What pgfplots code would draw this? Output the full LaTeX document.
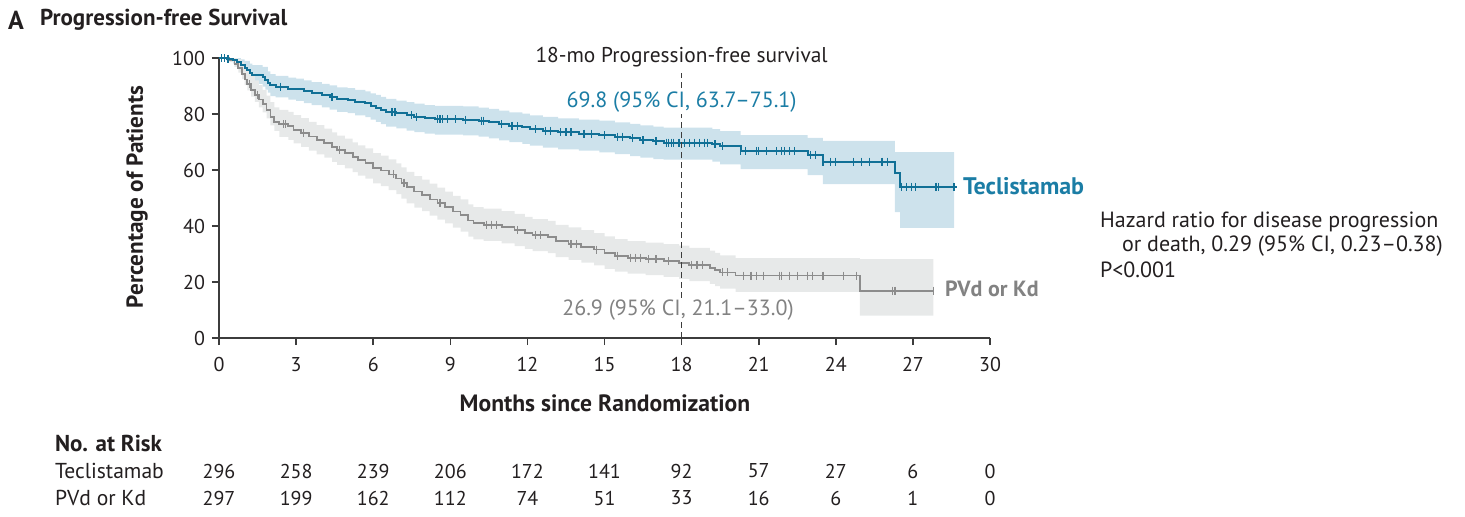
\documentclass[border=0pt]{standalone}
\usepackage{pgfplots}
\pgfplotsset{compat=1.18}
\usepgfplotslibrary{fillbetween}
\usepackage{fontspec}
\setmainfont{PT Sans}

\definecolor{tecline}{RGB}{17,112,150}
\definecolor{tectext}{RGB}{27,125,165}
\definecolor{tecband}{RGB}{205,226,236}
\definecolor{ctlline}{RGB}{140,140,140}
\definecolor{ctltext}{RGB}{130,130,130}
\definecolor{ctlband}{RGB}{231,233,233}
\definecolor{axisgray}{RGB}{60,60,60}
\definecolor{txt}{RGB}{35,31,32}

\begin{document}
\begin{tikzpicture}
\begin{axis}[
  at={(0pt,0pt)}, anchor=south west,
  scale only axis, width=385.5pt, height=140pt,
  xmin=0, xmax=30, ymin=0, ymax=100,
  axis x line*=bottom, axis y line*=left,
  axis line style={-, axisgray, line width=0.8pt},
  xtick={0,3,...,30}, ytick={0,20,...,100},
  tick align=outside, major tick length=3.5pt,
  tick style={axisgray, line width=0.8pt},
  ticklabel style={font=\fontsize{10}{12}\selectfont, text=txt},
  xticklabel style={yshift=-2.5pt},
  /pgf/number format/assume math mode=true,
  clip=false,
]
% 95% confidence bands (step functions)
\addplot[name path=tu, draw=none, const plot] coordinates {
 (0,100)(0.55,100)(0.85,99.5)(1.0,99)(1.2,98)(1.3,97.5)(1.7,96.8)(1.9,95.2)(2.0,94.2)(2.2,93.6)
 (2.7,93)(3.0,92.6)(3.3,92)(3.6,91.4)(4.0,90.8)(4.3,90.2)(4.6,89.5)(5.0,89.2)(5.3,88.6)(5.7,88.1)
 (5.9,87.4)(6.1,86.8)(6.3,86.1)(6.5,85.4)(6.9,84.8)(7.3,84.2)(7.6,83.7)(8.0,83.2)(8.4,82.9)
 (9.5,82.7)(10.1,82.3)(10.5,81.8)(10.9,81.2)(11.3,80.6)(11.8,80.1)(12.1,79.5)(12.6,79)(13.2,78.4)
 (14.0,78)(14.8,77.6)(15.4,77)(16.0,76.5)(16.4,75.9)(16.9,75.5)(17.3,75.1)(19.2,74.6)(19.5,73.9)
 (20.3,72.5)(22.9,71.5)(23.5,70.4)(26.3,66.4)(28.6,66.4)};
\addplot[name path=tl, draw=none, const plot] coordinates {
 (0,100)(0.3,99)(0.55,98)(0.7,96.8)(0.85,95.5)(1.0,94)(1.1,92.8)(1.2,91.6)(1.3,90.8)(1.7,89.8)
 (1.8,88.7)(1.9,87.6)(2.0,86.4)(2.2,85.9)(2.7,85.1)(3.0,84.7)(3.3,83.9)(3.6,83.2)(4.0,82.4)
 (4.3,81.6)(4.6,80.8)(5.0,80.3)(5.3,79.5)(5.7,78.9)(5.9,78)(6.1,77.2)(6.3,76.4)(6.5,75.5)
 (6.9,74.9)(7.3,74.1)(7.6,73.5)(8.0,73)(8.4,72.6)(9.5,72.4)(10.1,71.9)(10.5,71.3)(10.9,70.6)
 (11.3,70)(11.8,69.3)(12.1,68.7)(12.6,68)(13.2,67.4)(14.0,66.9)(14.8,66.3)(15.4,65.7)(16.0,65)
 (16.4,64.4)(16.9,63.9)(17.3,63.7)(19.2,63)(19.5,62)(20.3,60.3)(22.9,58.2)(23.5,55)(26.3,45)
 (26.5,39.3)(28.6,39.3)};
\addplot[tecband, draw=none] fill between[of=tu and tl];

\addplot[name path=cu, draw=none, const plot] coordinates {
 (0,100)(0.6,100)(0.75,99.5)(0.9,98.5)(1.0,97)(1.1,95.5)(1.25,93.6)(1.4,92)(1.55,90.3)(1.7,88.6)
 (1.85,86.6)(2.0,84.2)(2.15,82.4)(2.35,81.5)(2.7,80.8)(2.9,79.6)(3.2,78.5)(3.5,77.2)(3.8,76)
 (4.1,74.8)(4.4,73.4)(4.6,72.3)(4.9,71.2)(5.2,69.9)(5.4,68.8)(5.7,67.7)(6.0,66)(6.3,65.1)
 (6.6,63.8)(6.9,62.4)(7.1,60.9)(7.3,59.3)(7.6,57.8)(7.9,56.6)(8.2,55.1)(8.5,53.7)(8.8,52.3)
 (9.1,50.8)(9.4,49.5)(9.7,47.7)(9.9,46.7)(10.3,46.2)(11.0,45.3)(11.5,44.3)(11.9,43.3)(12.2,42.5)
 (12.8,41.8)(13.1,40.4)(13.6,39.5)(14.1,38.5)(14.6,37.5)(15.0,36.3)(15.4,35.3)(15.9,34.6)
 (16.6,34.1)(17.3,33.5)(17.9,33.0)(18.3,32.2)(19.1,31.2)(19.3,30.4)(19.5,29.5)(20.1,28.5)
 (24.94,28.2)(27.8,28.2)};
\addplot[name path=cl, draw=none, const plot] coordinates {
 (0,100)(0.4,98.5)(0.6,96.8)(0.75,94.8)(0.9,92.5)(1.0,90.3)(1.1,88.4)(1.25,86.2)(1.4,84.3)
 (1.55,82.4)(1.7,80.6)(1.85,78.4)(2.0,75.9)(2.15,74)(2.35,71.8)(2.7,70.8)(2.9,69.5)(3.2,68.3)
 (3.5,66.9)(3.8,65.6)(4.1,64.4)(4.4,62.9)(4.6,61.8)(4.9,60.6)(5.2,59.2)(5.4,58)(5.7,56.9)
 (6.0,55.2)(6.3,54.2)(6.6,52.8)(6.9,51.4)(7.1,49.8)(7.3,48.1)(7.6,46.6)(7.9,45.3)(8.2,43.7)
 (8.5,42.3)(8.8,40.9)(9.1,39.4)(9.4,38)(9.7,36.2)(9.9,35.2)(10.3,34.7)(11.0,33.8)(11.5,32.8)
 (11.9,31.8)(12.2,31)(12.8,30.3)(13.1,28.9)(13.6,27.9)(14.1,26.9)(14.6,25.9)(15.0,24.7)
 (15.4,23.7)(15.9,23)(16.6,22.5)(17.3,21.8)(17.9,21.1)(18.3,20.3)(19.1,19.3)(19.3,18.5)
 (19.5,17.6)(20.1,16.5)(24.94,8.0)(27.8,8.0)};
\addplot[ctlband, draw=none] fill between[of=cu and cl];

% PVd or Kd
\addplot[ctlline, line width=0.9pt, const plot] coordinates {
 (0,100)(0.4,99.3)(0.6,98)(0.75,96.3)(0.9,94.3)(1.0,92.3)(1.1,90.6)(1.25,88.6)(1.4,86.9)
 (1.55,85.2)(1.7,83.5)(1.85,81.4)(2.0,79.0)(2.15,77.2)(2.35,76.3)(2.7,75.6)(2.9,74.4)
 (3.2,73.3)(3.5,72.0)(3.8,70.8)(4.1,69.6)(4.4,68.2)(4.6,67.1)(4.9,66.0)(5.2,64.6)(5.4,63.5)
 (5.7,62.4)(6.0,60.7)(6.3,59.8)(6.6,58.4)(6.9,57.0)(7.1,55.5)(7.3,53.8)(7.6,52.3)(7.9,51.1)
 (8.2,49.5)(8.5,48.1)(8.8,46.7)(9.1,45.2)(9.4,43.8)(9.7,42.0)(9.9,41.0)(10.3,40.5)(11.0,39.6)
 (11.5,38.6)(11.9,37.5)(12.2,36.7)(12.8,36.0)(13.1,34.6)(13.6,33.6)(14.1,32.6)(14.6,31.6)
 (15.0,30.4)(15.4,29.4)(15.9,28.7)(16.6,28.2)(17.3,27.5)(17.9,26.9)(18.3,26.1)(19.1,25.1)
 (19.3,24.3)(19.5,23.4)(20.1,22.3)(24.94,16.9)(27.8,16.9)};
\addplot[ctlline, only marks, mark=|, mark size=2pt, mark options={line width=0.6pt}] coordinates {
 (1.2,90.6)(1.5,86.9)(2.5,76.3)(2.6,76.3)(3.3,73.3)(4.7,67.1)(6.8,58.4)(7.2,55.5)(8.6,48.1)
 (10.4,40.5)(10.6,40.5)(10.8,40.5)(11.6,38.6)(12.3,36.7)(12.5,36.7)(13.7,33.6)(13.9,33.6)
 (14.7,31.6)(15.5,29.4)(16.0,28.7)(16.2,28.7)(16.4,28.7)(16.7,28.2)(17.0,28.2)(17.5,27.5)
 (18.4,26.1)(18.6,26.1)(18.8,26.1)(19.6,23.4)(19.8,23.4)(20.4,22.3)(20.7,22.3)(20.9,22.3)
 (21.2,22.3)(21.8,22.3)(21.9,22.3)(22.2,22.3)(22.5,22.3)(22.9,22.3)(23.1,22.3)(23.5,22.3)
 (24.3,22.3)(24.8,22.3)(26.2,16.9)(26.3,16.9)(27.8,16.9)};

% Teclistamab
\addplot[tecline, line width=1pt, const plot] coordinates {
 (0,100)(0.3,99.7)(0.55,99.3)(0.7,98.6)(0.85,97.6)(1.0,96.6)(1.1,95.6)(1.2,94.6)(1.3,94.0)
 (1.7,93.2)(1.8,92.2)(1.9,91.2)(2.0,90.2)(2.2,89.8)(2.7,89.1)(3.0,88.8)(3.3,88.1)(3.6,87.5)
 (4.0,86.8)(4.3,86.1)(4.6,85.4)(5.0,85.0)(5.3,84.3)(5.7,83.8)(5.9,83.0)(6.1,82.3)(6.3,81.6)
 (6.5,80.8)(6.9,80.2)(7.3,79.5)(7.6,79.0)(8.0,78.5)(8.4,78.2)(9.5,78.0)(10.1,77.6)(10.5,77.0)
 (10.9,76.4)(11.3,75.8)(11.8,75.2)(12.1,74.6)(12.6,74.0)(13.2,73.4)(14.0,73.0)(14.8,72.5)
 (15.4,71.9)(16.0,71.3)(16.4,70.7)(16.9,70.2)(17.3,69.8)(19.2,69.2)(19.5,68.4)(20.3,66.8)
 (22.9,65.4)(23.5,63.0)(26.3,58.8)(26.5,54.0)(28.7,54.0)};
\addplot[tecline, only marks, mark=|, mark size=2pt, mark options={line width=0.6pt}] coordinates {
 (0.1,100)(0.2,100)(0.35,99.7)(2.4,89.8)(4.4,86.1)(6.7,80.8)(6.75,80.8)(6.85,80.8)(7.5,79.5)
 (7.7,79.0)(8.5,78.2)(8.6,78.2)(8.7,78.2)(8.9,78.2)(9.2,78.2)(9.6,78.0)(10.2,77.6)(10.3,77.6)
 (11.0,76.4)(11.4,75.8)(11.6,75.8)(12.3,74.6)(12.7,74.0)(12.9,74.0)(13.3,73.4)(13.5,73.4)
 (13.7,73.4)(14.2,73.0)(14.5,73.0)(15.0,72.5)(15.5,71.9)(15.7,71.9)(16.1,71.3)(16.5,70.7)
 (17.0,70.2)(17.4,69.8)(17.5,69.8)(17.6,69.8)(17.7,69.8)(17.9,69.8)(18.1,69.8)(18.3,69.8)
 (18.5,69.8)(18.7,69.8)(18.9,69.8)(19.0,69.8)(19.3,69.2)(19.6,68.4)(20.3,66.8)(20.5,66.8)
 (20.9,66.8)(21.0,66.8)(21.3,66.8)(21.7,66.8)(21.9,66.8)(22.0,66.8)(22.2,66.8)(22.4,66.8)
 (23.0,65.4)(23.2,65.4)(23.5,63.0)(23.8,63.0)(24.0,63.0)(24.7,63.0)(25.0,63.0)(25.3,63.0)
 (25.8,63.0)(26.0,63.0)(26.55,54.0)(26.75,54.0)(26.95,54.0)(27.1,54.0)(27.9,54.0)(28.0,54.0)
 (28.6,54.0)};

% 18-month reference line
\addplot[axisgray, line width=0.8pt, dash pattern=on 3pt off 2pt] coordinates {(18,0)(18,94.6)};

\node[text=txt, font=\fontsize{10.7}{12}\selectfont] at (axis cs:18,100.4) {18-mo Progression-free survival};
\node[text=tectext, fill=white, inner sep=1pt, font=\fontsize{11}{13}\selectfont] at (axis cs:18,84.3) {69.8 (95\% CI, 63.7–75.1)};
\node[text=ctltext, fill=white, inner sep=1pt, font=\fontsize{11}{13}\selectfont] at (axis cs:17.86,10) {26.9 (95\% CI, 21.1–33.0)};
\end{axis}

% surrounding text, in a frame measured from the top-left corner
\begin{scope}[x=0.5pt, y=-0.5pt, shift={(-109.5pt,169pt)}]
\node[anchor=west, text=txt, font=\bfseries\fontsize{13}{15}\selectfont] at (1,20) {A};
\node[anchor=west, text=txt, font=\bfseries\fontsize{11.5}{13}\selectfont] at (33,20) {Progression-free Survival};
\node[rotate=90, text=txt, font=\bfseries\fontsize{11.6}{13}\selectfont] at (137,197) {Percentage of Patients};
\node[text=txt, font=\bfseries\fontsize{11.8}{13}\selectfont] at (605,403) {Months since Randomization};
\node[anchor=west, text=tectext, font=\bfseries\fontsize{12}{14}\selectfont] at (956,186) {Teclistamab};
\node[anchor=west, text=ctltext, font=\bfseries\fontsize{11}{13}\selectfont] at (938,289) {PVd or Kd};
\node[anchor=west, text=txt, font=\fontsize{11}{13}\selectfont] at (1093,222) {Hazard ratio for disease progression};
\node[anchor=west, text=txt, font=\fontsize{11}{13}\selectfont] at (1115,246) {or death, 0.29 (95\% CI, 0.23–0.38)};
\node[anchor=west, text=txt, font=\fontsize{11}{13}\selectfont] at (1093,270) {P<0.001};
\node[anchor=west, text=txt, font=\bfseries\fontsize{11.5}{13}\selectfont] at (48,443) {No. at Risk};
\node[anchor=west, text=txt, font=\fontsize{10.8}{12}\selectfont] at (48,471) {Teclistamab};
\node[anchor=west, text=txt, font=\fontsize{10.8}{12}\selectfont] at (48,498) {PVd or Kd};
\foreach \n [count=\i from 0] in {296,258,239,206,172,141,92,57,27,6,0}
  \node[text=txt, font=\fontsize{10}{12}\selectfont] at ({219+25.7*3*\i},471) {\n};
\foreach \n [count=\i from 0] in {297,199,162,112,74,51,33,16,6,1,0}
  \node[text=txt, font=\fontsize{10}{12}\selectfont] at ({219+25.7*3*\i},498) {\n};
\pgfresetboundingbox
\path (0,0) rectangle (1465,516);
\end{scope}
\end{tikzpicture}
\end{document}
